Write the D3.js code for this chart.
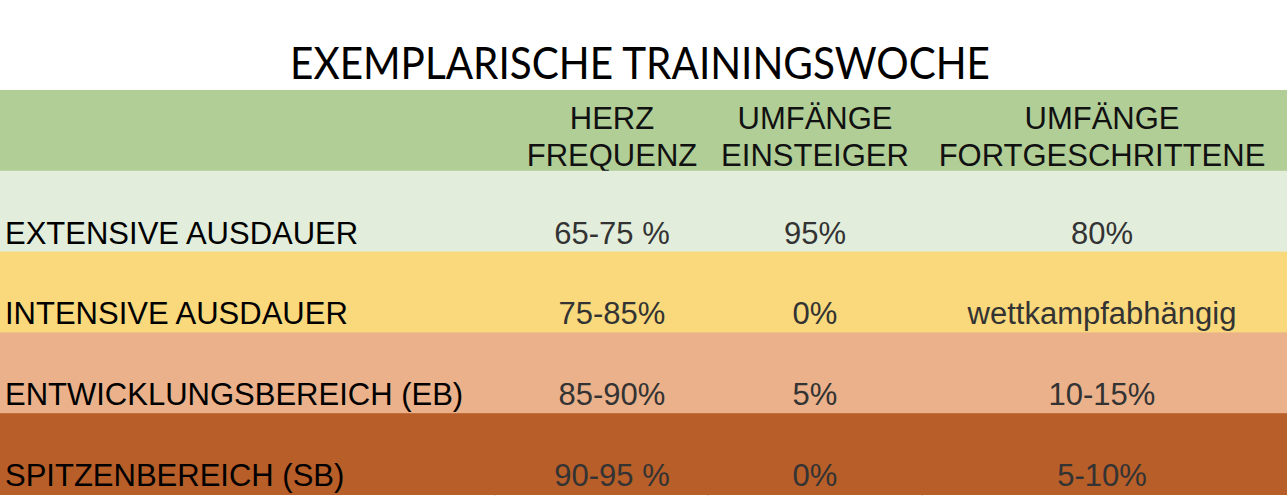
<!DOCTYPE html>
<html><head><meta charset="utf-8">
<script src="https://cdn.jsdelivr.net/npm/d3@7"></script>
<style>body{margin:0;background:#fff}</style>
</head><body><div id="chart"></div>
<script>
var title = "EXEMPLARISCHE TRAININGSWOCHE";
var headers = [["HERZ", "FREQUENZ"], ["UMFÄNGE", "EINSTEIGER"], ["UMFÄNGE", "FORTGESCHRITTENE"]];
var zones = ["EXTENSIVE AUSDAUER", "INTENSIVE AUSDAUER", "ENTWICKLUNGSBEREICH (EB)", "SPITZENBEREICH (SB)"];
var heartRate = ["65-75 %", "75-85%", "85-90%", "90-95 %"];
var beginners = ["95%", "0%", "5%", "0%"];
var advanced = ["80%", "wettkampfabhängig", "10-15%", "5-10%"];
var rowColors = ["#e2eedb", "#f9d97b", "#eab18a", "#b85e29"];

var width = 1288, height = 496;
var svg = d3.select("#chart").append("svg").attr("width", width).attr("height", height);
var font = "'Liberation Sans', Arial, sans-serif";
var fs = "31px";

var y = d3.scaleBand().domain(["head"].concat(zones)).range([90, 494]).paddingInner(0);
var colX = d3.scaleOrdinal().domain([0, 1, 2]).range([612, 815, 1102]);

svg.append("text").attr("x", 640).attr("y", 79).attr("text-anchor", "middle")
  .attr("textLength", 700).attr("lengthAdjust", "spacingAndGlyphs")
  .style("font-family", "Lato, 'Open Sans', sans-serif").style("font-size", "44px")
  .text(title);

svg.append("rect").attr("x", 0).attr("y", y("head")).attr("width", 1287).attr("height", y.bandwidth() + 1)
  .attr("fill", "#b1ce97");

headers.forEach(function (h, i) {
  h.forEach(function (line, j) {
    svg.append("text").attr("x", colX(i)).attr("y", y("head") + 39 + j * 37)
      .attr("text-anchor", "middle").style("font-family", font).style("font-size", fs)
      .attr("fill", "#111").text(line);
  });
});

// faint grid lines below last row
[495, 708, 922].forEach(function (gx) {
  svg.append("line").attr("x1", gx).attr("x2", gx).attr("y1", 488).attr("y2", 496).attr("stroke", "#ddd");
});

var rows = svg.selectAll("g.row").data(zones).enter().append("g").attr("class", "row")
  .attr("transform", function (d) { return "translate(0," + y(d) + ")"; });

rows.append("rect").attr("width", 1287).attr("height", y.bandwidth() + 1)
  .attr("fill", function (d, i) { return rowColors[i]; });

rows.append("text").attr("x", 5).attr("y", y.bandwidth() - 8)
  .style("font-family", font).style("font-size", fs).attr("fill", "#000")
  .text(function (d) { return d; });

[heartRate, beginners, advanced].forEach(function (col, ci) {
  rows.append("text").attr("x", colX(ci)).attr("y", y.bandwidth() - 8)
    .attr("text-anchor", "middle").style("font-family", font).style("font-size", fs)
    .attr("fill", "#333").text(function (d, i) { return col[i]; });
});
</script></body></html>
